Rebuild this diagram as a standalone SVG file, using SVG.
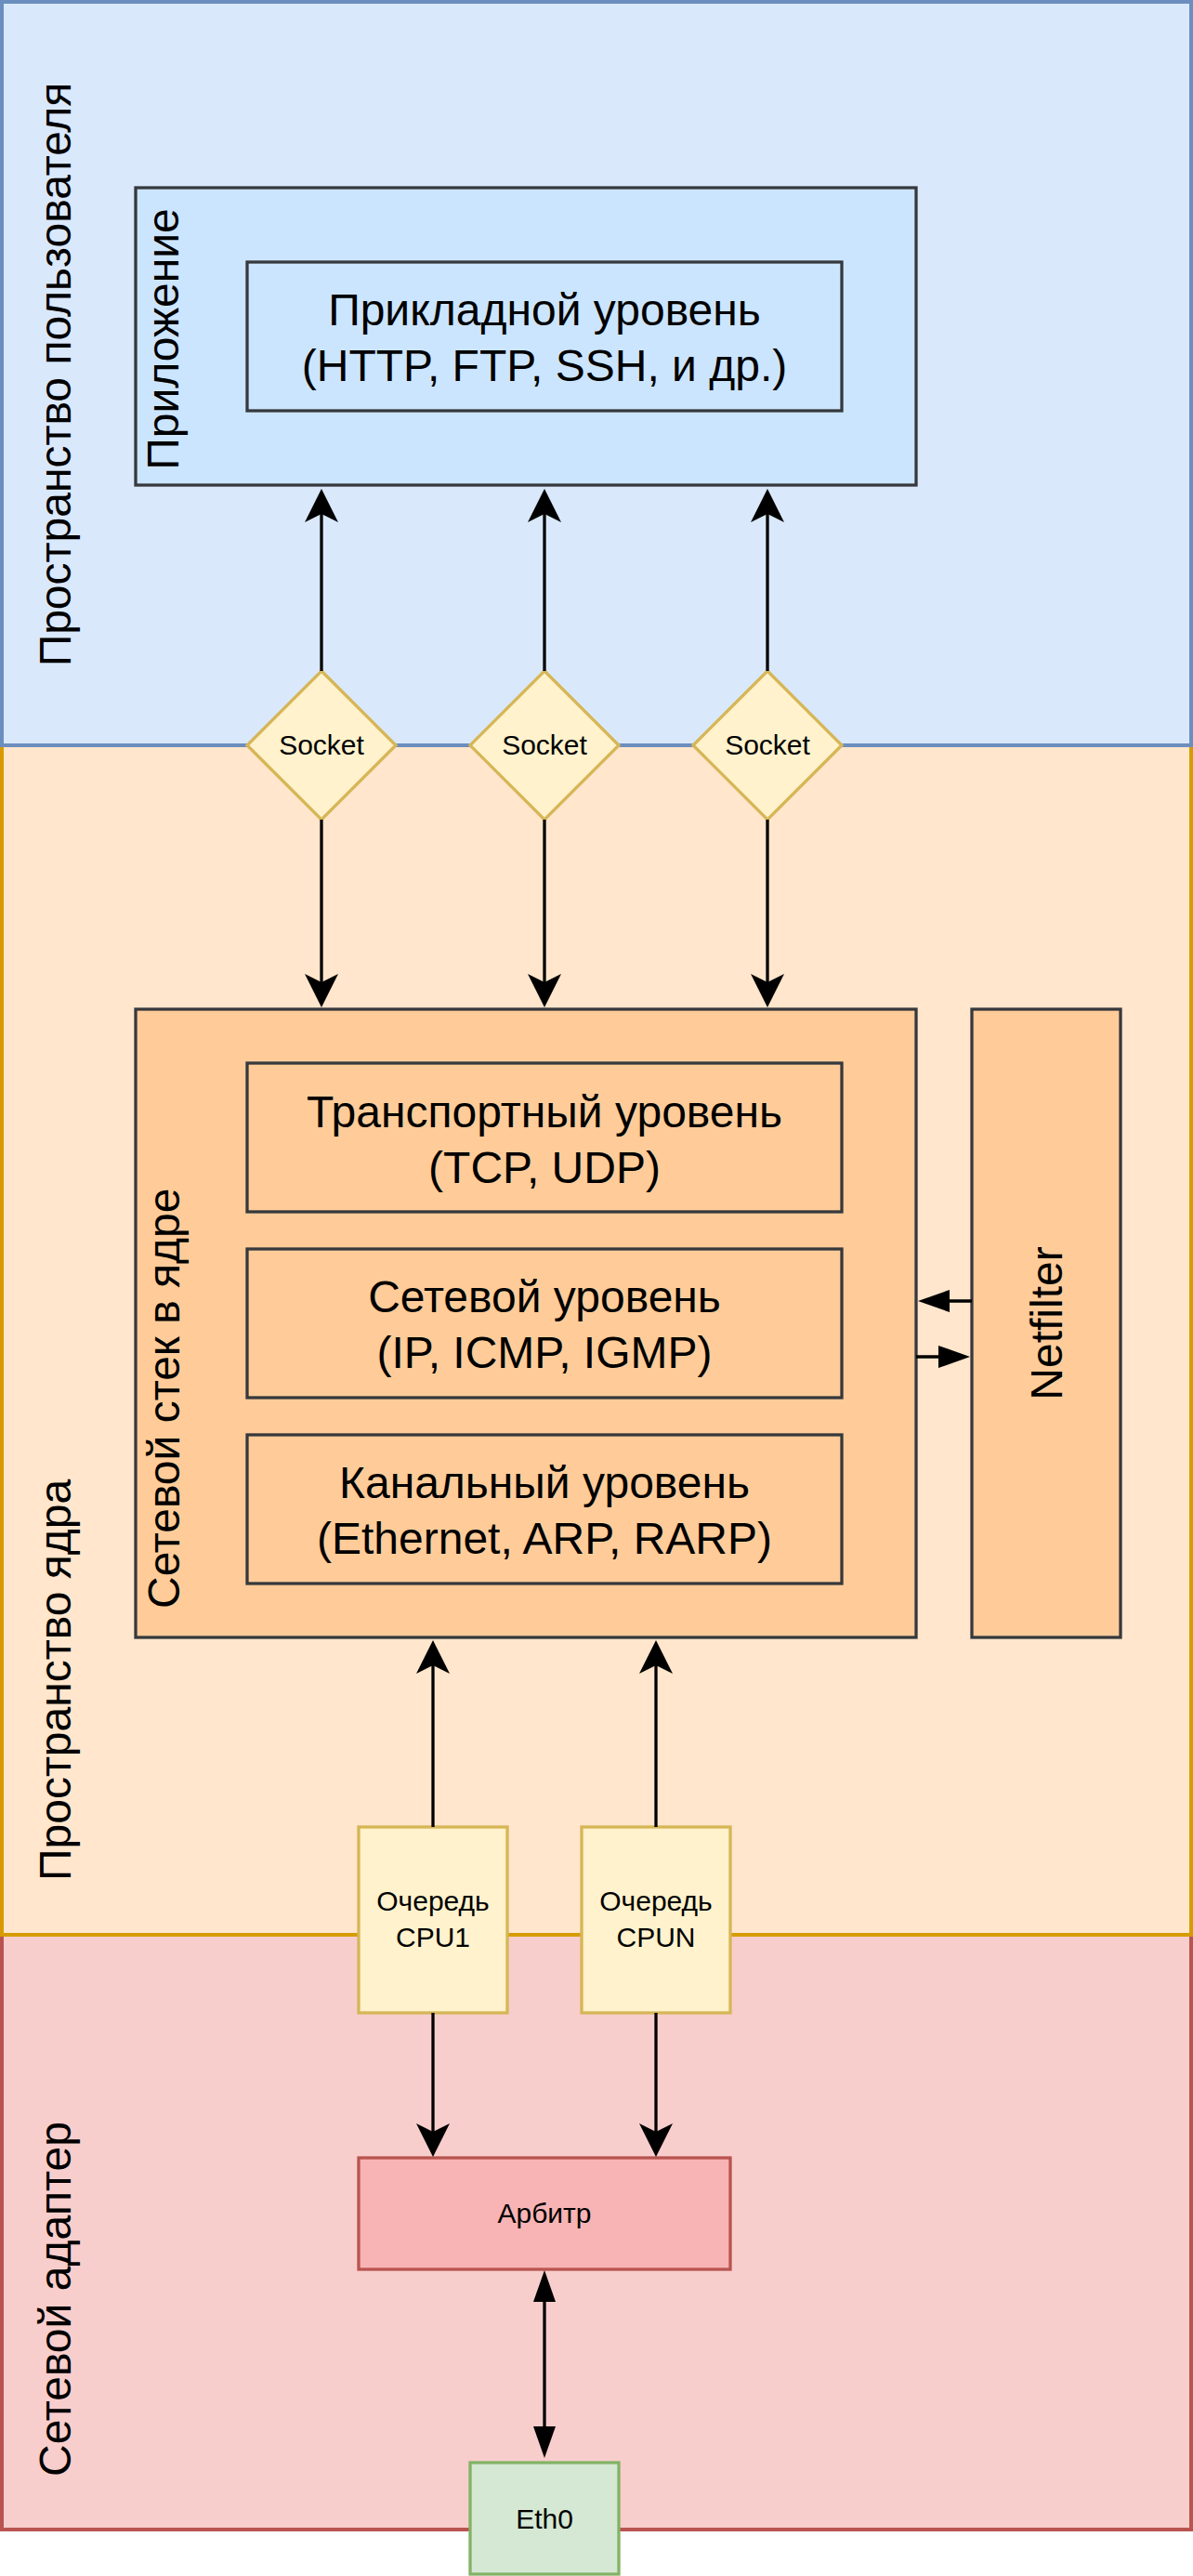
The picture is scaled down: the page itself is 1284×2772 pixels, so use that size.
<svg xmlns="http://www.w3.org/2000/svg" width="1284" height="2772" viewBox="0 0 1284 2772">
<defs>
<marker id="classic" markerUnits="userSpaceOnUse" markerWidth="36" markerHeight="36" viewBox="0 0 36 36" refX="30" refY="18" orient="auto-start-reverse"><path d="M0,0 L36,18 L0,36 L9,18 Z" fill="#000"/></marker>
<marker id="block" markerUnits="userSpaceOnUse" markerWidth="34" markerHeight="24" viewBox="0 0 34 24" refX="28" refY="12" orient="auto-start-reverse"><path d="M0,0 L34,12 L0,24 Z" fill="#000"/></marker>
</defs>
<style>
text{font-family:"Liberation Sans",Arial,Helvetica,sans-serif;fill:#000}
.big{font-size:48px}
.small{font-size:30px}
.mid{text-anchor:middle}
.box{stroke:#36393d;stroke-width:3.3}
.edge{stroke:#000;stroke-width:3.3;fill:none}
.sock{fill:#fff2cc;stroke:#d6b656;stroke-width:3.3}
</style>
<g id="adapter"><rect x="2" y="2082" width="1280" height="640" fill="#f8cecc" stroke="#b85450" stroke-width="4"/><text class="big" transform="translate(76,2665) rotate(-90)">Сетевой адаптер</text></g>
<g id="kernel"><rect x="2" y="802" width="1280" height="1280" fill="#ffe6cc" stroke="#d79b00" stroke-width="4"/><text class="big" transform="translate(76,2024) rotate(-90)">Пространство ядра</text></g>
<g id="user"><rect x="2" y="2" width="1280" height="800" fill="#dae8fc" stroke="#6c8ebf" stroke-width="4"/><text class="big mid" transform="translate(76,403) rotate(-90)">Пространство пользователя</text></g>
<g id="app"><rect class="box" x="146" y="202" width="840" height="320" fill="#cce5ff"/><text class="big mid" transform="translate(192,365) rotate(-90)">Приложение</text></g>
<g id="applayer"><rect class="box" x="266" y="282" width="640" height="160" fill="#cce5ff"/><text class="big mid" x="586" y="350">Прикладной уровень</text><text class="big mid" x="586" y="410">(HTTP, FTP, SSH, и др.)</text></g>
<g id="stack"><rect class="box" x="146" y="1086" width="840" height="676" fill="#ffcc99"/><text class="big" transform="translate(193,1731) rotate(-90)">Сетевой стек в ядре</text></g>
<g id="transport"><rect class="box" x="266" y="1144" width="640" height="160" fill="#ffcc99"/><text class="big mid" x="586" y="1213">Транспортный уровень</text><text class="big mid" x="586" y="1273">(TCP, UDP)</text></g>
<g id="network"><rect class="box" x="266" y="1344" width="640" height="160" fill="#ffcc99"/><text class="big mid" x="586" y="1412">Сетевой уровень</text><text class="big mid" x="586" y="1472">(IP, ICMP, IGMP)</text></g>
<g id="link"><rect class="box" x="266" y="1544" width="640" height="160" fill="#ffcc99"/><text class="big mid" x="586" y="1612">Канальный уровень</text><text class="big mid" x="586" y="1672">(Ethernet, ARP, RARP)</text></g>
<g id="netfilter"><rect class="box" x="1046" y="1086" width="160" height="676" fill="#ffcc99"/><text class="big mid" transform="translate(1143,1424) rotate(-90)">Netfilter</text></g>
<g id="socket1"><polygon class="sock" points="346,722 426,802 346,882 266,802"/><text class="small mid" x="346" y="812">Socket</text></g>
<g id="socket2"><polygon class="sock" points="586,722 666,802 586,882 506,802"/><text class="small mid" x="586" y="812">Socket</text></g>
<g id="socket3"><polygon class="sock" points="826,722 906,802 826,882 746,802"/><text class="small mid" x="826" y="812">Socket</text></g>
<g id="queue1"><rect x="386" y="1966" width="160" height="200" fill="#fff2cc" stroke="#d6b656" stroke-width="3.3"/><text class="small mid" x="466" y="2056">Очередь</text><text class="small mid" x="466" y="2095">CPU1</text></g>
<g id="queueN"><rect x="626" y="1966" width="160" height="200" fill="#fff2cc" stroke="#d6b656" stroke-width="3.3"/><text class="small mid" x="706" y="2056">Очередь</text><text class="small mid" x="706" y="2095">CPUN</text></g>
<g id="arbiter"><rect x="386" y="2322" width="400" height="120" fill="#f8b4b4" stroke="#b85450" stroke-width="3.3"/><text class="small mid" x="586" y="2392">Арбитр</text></g>
<g id="eth0"><rect x="506" y="2650" width="160" height="120" fill="#d5e8d4" stroke="#82b366" stroke-width="3.3"/><text class="small mid" x="586" y="2721">Eth0</text></g>
<g id="connectors">
<path class="edge" d="M346,722 L346,532" marker-end="url(#classic)"/>
<path class="edge" d="M586,722 L586,532" marker-end="url(#classic)"/>
<path class="edge" d="M826,722 L826,532" marker-end="url(#classic)"/>
<path class="edge" d="M346,882 L346,1078" marker-end="url(#classic)"/>
<path class="edge" d="M586,882 L586,1078" marker-end="url(#classic)"/>
<path class="edge" d="M826,882 L826,1078" marker-end="url(#classic)"/>
<path class="edge" d="M1046,1400 L994,1400" marker-end="url(#block)"/>
<path class="edge" d="M986,1460 L1038,1460" marker-end="url(#block)"/>
<path class="edge" d="M466,1966 L466,1771" marker-end="url(#classic)"/>
<path class="edge" d="M706,1966 L706,1771" marker-end="url(#classic)"/>
<path class="edge" d="M466,2166 L466,2315" marker-end="url(#classic)"/>
<path class="edge" d="M706,2166 L706,2315" marker-end="url(#classic)"/>
<path class="edge" d="M586,2449 L586,2639" marker-start="url(#block)" marker-end="url(#block)"/>
</g>
</svg>
